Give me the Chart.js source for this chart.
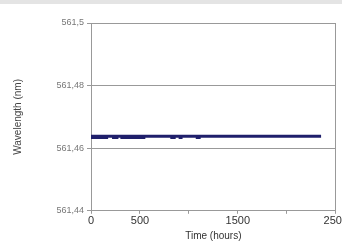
<!DOCTYPE html>
<html>
<head>
<meta charset="utf-8">
<script src="https://cdn.jsdelivr.net/npm/chart.js@4/dist/chart.umd.min.js"></script>
<style>
  html, body { margin: 0; padding: 0; background: #fff; overflow: hidden; }
  #wrap { position: relative; width: 349px; height: 248px; }
  #topbar { position: absolute; left: 0; top: 0; width: 342px; height: 4px; background: #e4e4e4; }
</style>
</head>
<body>
<div id="wrap">
  <canvas id="chart" width="349" height="248"></canvas>
  <div id="topbar"></div>
</div>
<script>
// main trace
const hours = [0, 200, 500, 700, 1000, 1200, 1500, 1800, 2100, 2350];
const wavelength = [561.4638, 561.4638, 561.4638, 561.4638, 561.4638, 561.4638, 561.4638, 561.4638, 561.4638, 561.4638];

// lower readings, null breaks the dashes
const dipHours = [0, 175, 176, 215, 280, 281, 300, 555, 556, 810, 865, 866, 895, 935, 936, 1070, 1120];
const dipWavelength = [561.4634, 561.4634, null, 561.4634, 561.4634, null, 561.4634, 561.4634, null, 561.4634, 561.4634, null, 561.4634, 561.4634, null, 561.4634, 561.4634];

const xTicks = [0, 500, 1000, 1500, 2000, 2500];
const xTickLabels = ['0', '500', '', '1500', '', '2500'];
const yTicks = [561.44, 561.46, 561.48, 561.5];
const yTickLabels = ['561,44', '561,46', '561,48', '561,5'];

const navy = '#1f1f6b';

new Chart(document.getElementById('chart'), {
  type: 'line',
  data: {
    datasets: [
      {
        data: hours.map((h, i) => ({x: h, y: wavelength[i]})),
        borderColor: navy,
        borderWidth: 3,
        pointRadius: 0,
        tension: 0
      },
      {
        data: dipHours.map((h, i) => ({x: h, y: dipWavelength[i]})),
        borderColor: navy,
        borderWidth: 3,
        pointRadius: 0,
        spanGaps: false,
        tension: 0
      }
    ]
  },
  options: {
    responsive: false,
    animation: false,
    plugins: { legend: { display: false }, tooltip: { enabled: false } },
    layout: { padding: { top: 23, left: 12, right: 0, bottom: 6 } },
    scales: {
      x: {
        type: 'linear',
        min: 0,
        max: 2500,
        afterBuildTicks: s => { s.ticks = xTicks.map(v => ({value: v})); },
        ticks: {
          callback: (v) => xTickLabels[xTicks.indexOf(v)],
          font: { family: 'Liberation Sans', size: 11 },
          color: '#333',
          padding: 1,
          maxRotation: 0,
          autoSkip: false
        },
        grid: {
          color: ctx => ctx.tick && ctx.tick.value === 2500 ? '#999' : 'rgba(0,0,0,0)',
          tickColor: '#999',
          tickLength: 3
        },
        border: { color: '#999' },
        title: {
          display: true,
          text: 'Time (hours)',
          font: { family: 'Liberation Sans', size: 10 },
          color: '#333',
          padding: { top: 1, bottom: 0 }
        }
      },
      y: {
        min: 561.44,
        max: 561.5,
        afterBuildTicks: s => { s.ticks = yTicks.map(v => ({value: v})); },
        afterFit: s => { s.width = 79; },
        ticks: {
          callback: (v) => yTickLabels[yTicks.indexOf(Number(v.toFixed(2)))],
          font: { family: 'Liberation Sans', size: 9 },
          color: '#777',
          padding: 3
        },
        grid: { color: '#999', tickColor: '#999', tickLength: 4 },
        border: { color: '#999' },
        title: {
          display: true,
          text: 'Wavelength (nm)',
          font: { family: 'Liberation Sans', size: 10 },
          color: '#444',
          padding: { top: 0, bottom: 14 }
        }
      }
    }
  }
});
</script>
</body>
</html>
